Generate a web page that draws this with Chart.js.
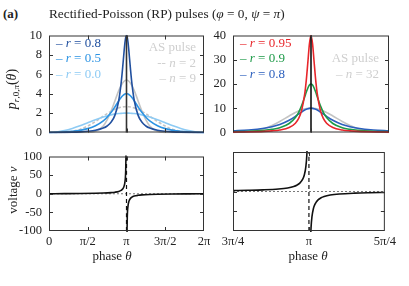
<!DOCTYPE html>
<html>
<head>
<meta charset="utf-8">
<script src="https://cdn.jsdelivr.net/npm/chart.js@4.4.0/dist/chart.umd.min.js"></script>
<style>
html, body { margin: 0; padding: 0; background: #fff; }
#fig { position: relative; width: 409px; height: 286px; overflow: hidden; font-family: 'Liberation Serif', 'DejaVu Serif', serif; color: #222; }
.box { position: absolute; }
.t { position: absolute; white-space: nowrap; line-height: 1; font-size: 13px; transform: translateY(-50%); }
.r { transform: translate(-100%, -50%); }
.c { transform: translate(-50%, -50%); }
.rot { transform: translate(-50%, -50%) rotate(-90deg); }
sub { font-size: 9px; vertical-align: -3px; }
</style>
</head>
<body>
<div id="fig">
  <div class="box" style="left:19px;top:21px;width:195px;height:126px"><canvas id="topLeft"></canvas></div>
  <div class="box" style="left:203px;top:21px;width:196px;height:126px"><canvas id="topRight"></canvas></div>
  <div class="box" style="left:19px;top:142px;width:195px;height:109px"><canvas id="botLeft"></canvas></div>
  <div class="box" style="left:203px;top:142px;width:196px;height:109px"><canvas id="botRight"></canvas></div>

  <div class="t" style="left:3px;top:13px;font-weight:bold">(a)</div>
  <div class="t" style="left:49px;top:14px;font-size:13.3px">Rectified-Poisson (RP) pulses (<i>φ</i> = 0, <i>ψ</i> = <i>π</i>)</div>
  <div class="t rot" style="left:13px;top:89px;font-size:14px"><i>p</i><sub><i>r</i>,0,<i>π</i></sub>(<i>θ</i>)</div>
  <div class="t rot" style="left:12px;top:190px">voltage <i>v</i></div>
  <div class="t c" style="left:112px;top:255px">phase <i>θ</i></div>
  <div class="t c" style="left:308px;top:255px">phase <i>θ</i></div>

  <div class="t" style="left:56px;top:42px;color:#21509f">– <i>r</i> = 0.8</div>
  <div class="t" style="left:56px;top:57px;color:#2c93e3">– <i>r</i> = 0.5</div>
  <div class="t" style="left:56px;top:73px;color:#8ecbf4">– <i>r</i> = 0.0</div>
  <div class="t r" style="left:196px;top:46px;color:#cfcfcf">AS pulse</div>
  <div class="t r" style="left:196px;top:62px;color:#cfcfcf">-- <i>n</i> = 2</div>
  <div class="t r" style="left:196px;top:77px;color:#cfcfcf">– <i>n</i> = 9</div>

  <div class="t" style="left:240px;top:42px;color:#e8262b">– <i>r</i> = 0.95</div>
  <div class="t" style="left:240px;top:57px;color:#1d9a48">– <i>r</i> = 0.9</div>
  <div class="t" style="left:240px;top:73px;color:#2b5fbd">– <i>r</i> = 0.8</div>
  <div class="t r" style="left:379px;top:57px;color:#cfcfcf">AS pulse</div>
  <div class="t r" style="left:379px;top:73px;color:#cfcfcf">– <i>n</i> = 32</div>
</div>

<script>
// phase in units of pi
const thetaL = [0, 0.1, 0.2, 0.3, 0.4, 0.5, 0.6, 0.7, 0.75, 0.8, 0.85, 0.9, 0.93, 0.95, 0.97, 0.98, 0.99, 1,
  1.01, 1.02, 1.03, 1.05, 1.07, 1.1, 1.15, 1.2, 1.25, 1.3, 1.4, 1.5, 1.6, 1.7, 1.8, 1.9, 2];
const rp08L = [0, 0.003, 0.014, 0.032, 0.065, 0.122, 0.229, 0.454, 0.671, 1.047, 1.764, 3.30, 5.03, 6.66, 8.47, 9.26, 9.80, 10,
  9.80, 9.26, 8.47, 6.66, 5.03, 3.30, 1.764, 1.047, 0.671, 0.454, 0.229, 0.122, 0.065, 0.032, 0.014, 0.003, 0];
const rp05L = [0, 0.011, 0.046, 0.112, 0.222, 0.400, 0.696, 1.199, 1.572, 2.051, 2.634, 3.263, 3.605, 3.789, 3.921, 3.965, 3.991, 4,
  3.991, 3.965, 3.921, 3.789, 3.605, 3.263, 2.634, 2.051, 1.572, 1.199, 0.696, 0.400, 0.222, 0.112, 0.046, 0.011, 0];
const rp00L = [0, 0.049, 0.191, 0.412, 0.691, 1, 1.309, 1.588, 1.707, 1.809, 1.891, 1.951, 1.976, 1.988, 1.996, 1.998, 2.0, 2,
  2.0, 1.998, 1.996, 1.988, 1.976, 1.951, 1.891, 1.809, 1.707, 1.588, 1.309, 1, 0.691, 0.412, 0.191, 0.049, 0];
const as2L = [0, 0.002, 0.024, 0.113, 0.318, 0.667, 1.142, 1.681, 1.943, 2.182, 2.384, 2.538, 2.603, 2.634, 2.655, 2.661, 2.665, 2.667,
  2.665, 2.661, 2.655, 2.634, 2.603, 2.538, 2.384, 2.182, 1.943, 1.681, 1.142, 0.667, 0.318, 0.113, 0.024, 0.002, 0];
const as9L = [0, 0, 0, 0, 0, 0.011, 0.119, 0.675, 1.297, 2.185, 3.256, 4.315, 4.835, 5.100, 5.285, 5.344, 5.380, 5.392,
  5.380, 5.344, 5.285, 5.100, 4.835, 4.315, 3.256, 2.185, 1.297, 0.675, 0.119, 0.011, 0, 0, 0, 0, 0];

const thetaR = [0.75, 0.8, 0.85, 0.875, 0.9, 0.93, 0.95, 0.96, 0.97, 0.98, 0.985, 0.99, 0.995, 1,
  1.005, 1.01, 1.015, 1.02, 1.03, 1.04, 1.05, 1.07, 1.1, 1.125, 1.15, 1.2, 1.25];
const rp095R = [0.153, 0.248, 0.451, 0.654, 1.022, 2.047, 3.838, 5.695, 9.127, 16.00, 21.68, 29.09, 36.57, 40,
  36.57, 29.09, 21.68, 16.00, 9.127, 5.695, 3.838, 2.047, 1.022, 0.654, 0.451, 0.248, 0.153];
const rp09R = [0.318, 0.511, 0.917, 1.309, 1.989, 3.704, 6.180, 8.231, 11.09, 14.75, 16.66, 18.37, 19.57, 20,
  19.57, 18.37, 16.66, 14.75, 11.09, 8.231, 6.180, 3.704, 1.989, 1.309, 0.917, 0.511, 0.318];
const rp08R = [0.671, 1.047, 1.764, 2.378, 3.30, 5.03, 6.66, 7.57, 8.47, 9.26, 9.57, 9.80, 9.95, 10,
  9.95, 9.80, 9.57, 9.26, 8.47, 7.57, 6.66, 5.03, 3.30, 2.378, 1.764, 1.047, 0.671];
const as32R = [0.063, 0.406, 1.675, 2.908, 4.556, 6.831, 8.261, 8.870, 9.375, 9.754, 9.889, 9.987, 10.046, 10.066,
  10.046, 9.987, 9.889, 9.754, 9.375, 8.870, 8.261, 6.831, 4.556, 2.908, 1.675, 0.406, 0.063];

const thetaVL = [0, 0.2, 0.4, 0.6, 0.7, 0.8, 0.85, 0.9, 0.93, 0.95, 0.97, 0.98, 0.99, 0.995, 1,
  1.005, 1.01, 1.02, 1.03, 1.05, 1.07, 1.1, 1.15, 1.2, 1.3, 1.4, 1.6, 1.8, 2];
const voltL = [0, 0.325, 0.727, 1.376, 1.963, 3.078, 4.165, 6.314, 9.058, 12.71, 21.2, 31.82, 63.66, 127.3, null,
  -127.3, -63.66, -31.82, -21.2, -12.71, -9.058, -6.314, -4.165, -3.078, -1.963, -1.376, -0.727, -0.325, 0];
const thetaVR = [0.75, 0.8, 0.85, 0.9, 0.93, 0.95, 0.96, 0.97, 0.98, 0.985, 0.99, 0.993, 0.995, 1,
  1.005, 1.007, 1.01, 1.015, 1.02, 1.03, 1.04, 1.05, 1.07, 1.1, 1.15, 1.2, 1.25];
const voltR = [2.414, 3.078, 4.165, 6.314, 9.058, 12.71, 15.89, 21.2, 31.82, 42.43, 63.66, 90.94, 127.3, null,
  -127.3, -90.94, -63.66, -42.43, -31.82, -21.2, -15.89, -12.71, -9.058, -6.314, -4.165, -3.078, -2.414];

const piLabels = { 0: '0', 2: 'π/2', 3: '3π/4', 4: 'π', 5: '5π/4', 6: '3π/2', 8: '2π' };
const tickFont = { family: "'Liberation Serif', 'DejaVu Serif', serif", size: 12.5 };

// box with inward ticks on all four sides
const framePlugin = {
  id: 'frame',
  afterDatasetsDraw(chart) {
    const { ctx, chartArea: a, scales: { x, y } } = chart;
    ctx.save();
    ctx.strokeStyle = '#333';
    ctx.lineWidth = 1;
    ctx.beginPath();
    x.ticks.forEach(t => {
      const px = Math.round(x.getPixelForValue(t.value)) + 0.5;
      if (px < a.left + 2 || px > a.right - 2) return;
      ctx.moveTo(px, a.bottom); ctx.lineTo(px, a.bottom - 4);
      ctx.moveTo(px, a.top); ctx.lineTo(px, a.top + 4);
    });
    y.ticks.forEach(t => {
      const py = Math.round(y.getPixelForValue(t.value)) + 0.5;
      if (py < a.top + 2 || py > a.bottom - 2) return;
      ctx.moveTo(a.left, py); ctx.lineTo(a.left + 4, py);
      ctx.moveTo(a.right, py); ctx.lineTo(a.right - 4, py);
    });
    ctx.stroke();
    ctx.strokeRect(a.left + 0.5, a.top + 0.5, a.width - 1, a.height - 1);
    ctx.restore();
  }
};

function curve(xs, ys, color, width, dash) {
  return {
    data: xs.map((x, i) => ({ x: x, y: ys[i] })),
    borderColor: color,
    borderWidth: width,
    borderDash: dash || [],
    pointRadius: 0,
    showLine: true,
    fill: false,
    cubicInterpolationMode: 'monotone',
    clip: 1
  };
}

function makeChart(id, datasets, xr, yr) {
  return new Chart(document.getElementById(id), {
    type: 'scatter',
    data: { datasets: datasets },
    options: {
      responsive: true,
      maintainAspectRatio: false,
      animation: false,
      events: [],
      layout: { padding: { top: 10, right: 10, bottom: xr.labels ? 4 : 10, left: 0 } },
      plugins: { legend: { display: false }, tooltip: { enabled: false } },
      scales: {
        x: {
          type: 'linear', min: xr.min, max: xr.max,
          grid: { display: false, drawTicks: false },
          border: { display: false },
          ticks: {
            stepSize: xr.step, display: xr.labels, padding: 3, color: '#222', font: tickFont,
            maxRotation: 0, autoSkip: false,
            callback: v => piLabels[Math.round(v * 4)]
          },
          afterFit: s => { s.height = xr.labels ? 16 : 0; }
        },
        y: {
          type: 'linear', min: yr.min, max: yr.max,
          grid: { display: false, drawTicks: false },
          border: { display: false },
          ticks: { stepSize: yr.step, display: yr.labels, padding: 7, color: '#222', font: tickFont },
          afterFit: s => { s.width = 30; }
        }
      }
    },
    plugins: [framePlugin]
  });
}

const gray = '#c4c4c4';

makeChart('topLeft', [
  curve([1, 1], [0, 10], '#333', 1.6),
  curve(thetaL, rp08L, '#21509f', 1.6),
  curve(thetaL, rp05L, '#2c93e3', 1.6),
  curve(thetaL, rp00L, '#8ecbf4', 1.6),
  curve(thetaL, as9L, gray, 1.6),
  curve(thetaL, as2L, gray, 1.6, [3, 2])
], { min: 0, max: 2, step: 0.5, labels: false }, { min: 0, max: 10, step: 2, labels: true });

makeChart('topRight', [
  curve([1, 1], [0, 40], '#111', 1.6),
  curve(thetaR, rp095R, '#e8262b', 1.6),
  curve(thetaR, rp09R, '#1d9a48', 1.6),
  curve(thetaR, rp08R, '#2b5fbd', 1.6),
  curve(thetaR, as32R, gray, 1.6)
], { min: 0.75, max: 1.25, step: 0.25, labels: false }, { min: 0, max: 40, step: 10, labels: true });

makeChart('botLeft', [
  curve(thetaVL, voltL, '#111', 1.6),
  curve([1, 1], [-100, 100], '#111', 1.2, [4, 3]),
  curve([0, 2], [0, 0], '#555', 0.8, [2, 2])
], { min: 0, max: 2, step: 0.5, labels: true }, { min: -100, max: 100, step: 50, labels: true });

makeChart('botRight', [
  curve(thetaVR, voltR, '#111', 1.6),
  curve([1, 1], [-100, 100], '#111', 1.2, [4, 3]),
  curve([0.75, 1.25], [0, 0], '#555', 0.8, [2, 2])
], { min: 0.75, max: 1.25, step: 0.25, labels: true }, { min: -100, max: 100, step: 50, labels: false });
</script>
</body>
</html>
